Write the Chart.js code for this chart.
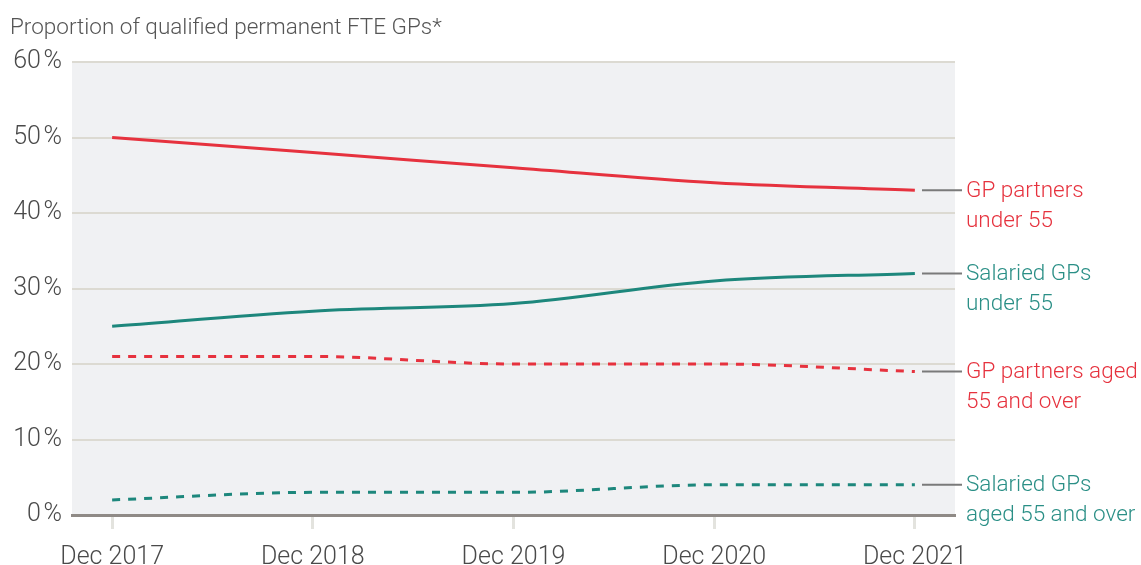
<!DOCTYPE html>
<html>
<head>
<meta charset="utf-8">
<script src="https://cdn.jsdelivr.net/npm/chart.js@4"></script>
<style>
  html, body { margin: 0; padding: 0; background: #fff; }
  #wrap { width: 1141px; height: 565px; }
</style>
</head>
<body>
<div id="wrap"><canvas id="chart"></canvas></div>
<script>
var years = ['Dec 2017', 'Dec 2018', 'Dec 2019', 'Dec 2020', 'Dec 2021'];
var partnersUnder55 = [50, 48, 46, 44, 43];
var salariedUnder55 = [25, 27, 28, 31, 32];
var partners55Over = [21, 21, 20, 20, 19];
var salaried55Over = [2, 3, 3, 4, 4];
var yTicks = [0, 10, 20, 30, 40, 50, 60];

var RED = '#e6323e';
var TEAL = '#1d877c';
var FONT = 'Roboto, "Liberation Sans", sans-serif';

function pts(arr) {
  return arr.map(function (v, i) { return { x: i, y: v }; });
}

var seriesLabels = [
  { lines: ['GP partners', 'under 55'], color: RED },
  { lines: ['Salaried GPs', 'under 55'], color: '#2a8f86' },
  { lines: ['GP partners aged', '55 and over'], color: RED },
  { lines: ['Salaried GPs', 'aged 55 and over'], color: '#2a8f86' }
];

var decor = {
  id: 'decor',
  beforeDraw: function (chart) {
    var ctx = chart.ctx, a = chart.chartArea;
    ctx.save();
    ctx.fillStyle = '#f0f1f3';
    ctx.fillRect(a.left, a.top, a.right - a.left, a.bottom - a.top);
    ctx.restore();
  },
  afterDraw: function (chart) {
    var ctx = chart.ctx, a = chart.chartArea;
    ctx.save();
    ctx.font = '300 22.5px ' + FONT;
    ctx.fillStyle = '#555';
    ctx.textBaseline = 'middle';
    ctx.fillText('Proportion of qualified permanent FTE GPs*', 10, 28);

    ctx.font = '300 22.5px ' + FONT;
    chart.data.datasets.forEach(function (ds, i) {
      var meta = chart.getDatasetMeta(i);
      var last = meta.data[meta.data.length - 1];
      var y = last.y;
      ctx.strokeStyle = '#7a7a7a';
      ctx.lineWidth = 2;
      ctx.beginPath();
      ctx.moveTo(a.right - 33, y);
      ctx.lineTo(a.right + 7, y);
      ctx.stroke();
      ctx.fillStyle = seriesLabels[i].color;
      ctx.textAlign = 'left';
      seriesLabels[i].lines.forEach(function (t, j) {
        ctx.fillText(t, a.right + 11, y + 1 + j * 30);
      });
    });
    ctx.restore();
  }
};

new Chart(document.getElementById('chart'), {
  type: 'line',
  data: {
    datasets: [
      { data: pts(partnersUnder55), borderColor: RED, borderWidth: 3 },
      { data: pts(salariedUnder55), borderColor: TEAL, borderWidth: 3 },
      { data: pts(partners55Over), borderColor: RED, borderWidth: 3, borderDash: [8, 8] },
      { data: pts(salaried55Over), borderColor: TEAL, borderWidth: 3, borderDash: [8, 8] }
    ]
  },
  options: {
    responsive: true,
    maintainAspectRatio: false,
    animation: false,
    layout: { padding: { left: 10, right: 186, top: 62, bottom: 0 } },
    elements: {
      point: { radius: 0 },
      line: { tension: 0, cubicInterpolationMode: 'monotone', fill: false }
    },
    plugins: {
      legend: { display: false },
      tooltip: { enabled: false }
    },
    scales: {
      x: {
        type: 'linear',
        min: -0.2,
        max: 4.2,
        afterBuildTicks: function (s) {
          s.ticks = years.map(function (l, i) { return { value: i }; });
        },
        afterFit: function (s) { s.height = 50; },
        ticks: {
          callback: function (v) { return years[v]; },
          font: { family: FONT, size: 25, weight: 300 },
          color: '#4a4a4a',
          padding: 14,
          maxRotation: 0,
          autoSkip: false
        },
        grid: {
          drawOnChartArea: false,
          drawTicks: true,
          tickLength: 14,
          tickWidth: 3,
          tickColor: '#e3e3de'
        },
        border: { display: true, color: '#8f8a86', width: 3 }
      },
      y: {
        min: 0,
        max: 60,
        afterBuildTicks: function (s) {
          s.ticks = yTicks.map(function (v) { return { value: v }; });
        },
        afterFit: function (s) { s.width = 62; },
        ticks: {
          callback: function (v) { return v + '\u200A%'; },
          font: { family: FONT, size: 25, weight: 300 },
          color: '#4a4a4a',
          padding: 10
        },
        grid: {
          drawTicks: false,
          color: function (c) { return c.tick && c.tick.value === 0 ? '#8f8a86' : '#dcdad2'; },
          lineWidth: function (c) { return c.tick && c.tick.value === 0 ? 3 : 2; }
        },
        border: { display: false }
      }
    }
  },
  plugins: [decor]
});
</script>
</body>
</html>
